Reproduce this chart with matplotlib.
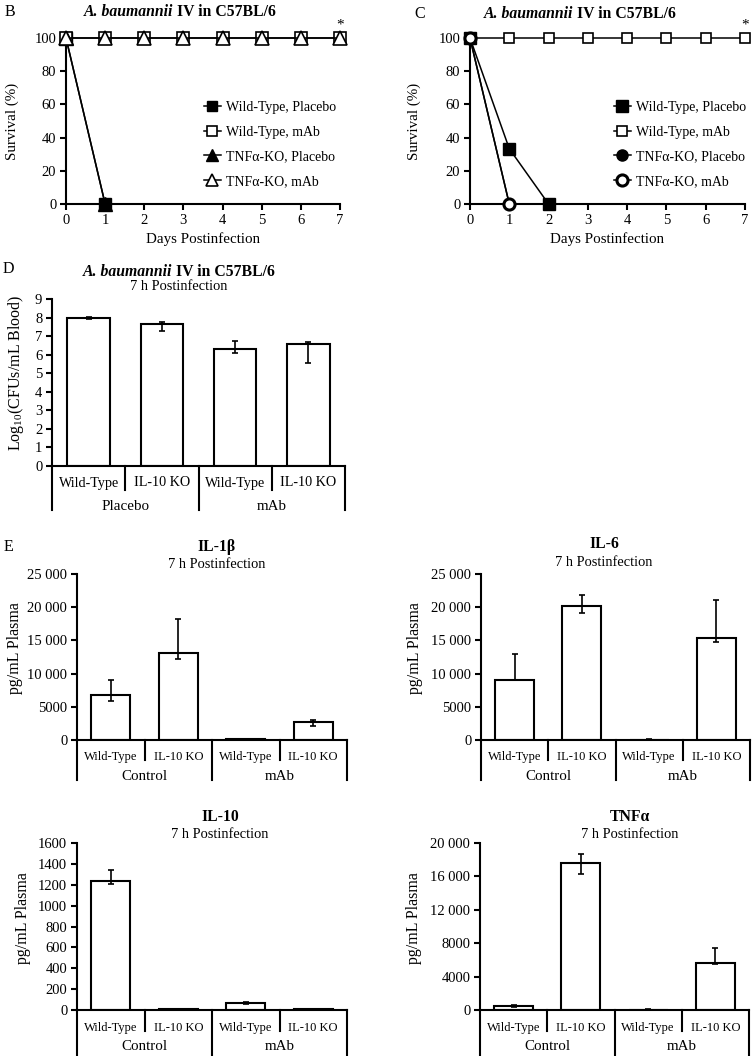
import matplotlib
matplotlib.use("Agg")
import matplotlib.pyplot as plt
from matplotlib.lines import Line2D
import numpy as np

plt.rcParams['font.family'] = ['Liberation Serif', 'DejaVu Serif']
plt.rcParams['mathtext.fontset'] = 'custom'
plt.rcParams['mathtext.rm'] = 'Liberation Serif'
plt.rcParams['mathtext.it'] = 'Liberation Serif:italic'
plt.rcParams['font.size'] = 10

# ---------------- data ----------------
days = [0, 1, 2, 3, 4, 5, 6, 7]
day_ticks = [0, 1, 2, 3, 4, 5, 6, 7]
surv_ticks = [0, 20, 40, 60, 80, 100]

# Panel B
b_wt_placebo_days = [0, 1]
b_wt_placebo = [100, 0]
b_wt_mab = [100, 100, 100, 100, 100, 100, 100, 100]
b_tnf_placebo_days = [0, 1]
b_tnf_placebo = [100, 0]
b_tnf_mab = [100, 100, 100, 100, 100, 100, 100, 100]

# Panel C
c_wt_placebo_days = [0, 1, 2]
c_wt_placebo = [100, 33.3, 0]
c_wt_mab = [100, 100, 100, 100, 100, 100, 100, 100]
c_tnf_placebo_days = [0, 1]
c_tnf_placebo = [100, 0]
c_tnf_mab_days = [0, 1]
c_tnf_mab = [100, 0]

legend_labels = ["Wild-Type, Placebo", "Wild-Type, mAb", "TNF\u03b1-KO, Placebo", "TNF\u03b1-KO, mAb"]

# Bar panels
genotypes = ["Wild-Type", "IL-10 KO", "Wild-Type", "IL-10 KO"]
d_groups = ["Placebo", "mAb"]
e_groups = ["Control", "mAb"]

d_cfu = [7.99, 7.63, 6.31, 6.56]
d_cfu_lo = [7.94, 7.30, 6.08, 5.54]
d_cfu_hi = [8.03, 7.75, 6.71, 6.69]
d_ticks = [0, 1, 2, 3, 4, 5, 6, 7, 8, 9]

il1b = [6740, 13080, 150, 2700]
il1b_lo = [5840, 12170, 110, 2110]
il1b_hi = [9000, 18160, 200, 2970]
il1b_ticks = [0, 5000, 10000, 15000, 20000, 25000]
il1b_ticklabels = ["0", "5000", "10 000", "15 000", "20 000", "25 000"]

il6 = [9000, 20220, 60, 15390]
il6_lo = [9000, 19110, 40, 14690]
il6_hi = [12880, 21880, 80, 21030]
il6_ticks = [0, 5000, 10000, 15000, 20000, 25000]
il6_ticklabels = ["0", "5000", "10 000", "15 000", "20 000", "25 000"]

il10 = [1234, 5, 67, 5]
il10_lo = [1205, 4, 62, 4]
il10_hi = [1346, 6, 78, 6]
il10_ticks = [0, 200, 400, 600, 800, 1000, 1200, 1400, 1600]
il10_ticklabels = ["0", "200", "400", "600", "800", "1000", "1200", "1400", "1600"]

tnf = [520, 17640, 50, 5610]
tnf_lo = [360, 16310, 40, 5450]
tnf_hi = [640, 18720, 60, 7375]
tnf_ticks = [0, 4000, 8000, 12000, 16000, 20000]
tnf_ticklabels = ["0", "4000", "8000", "12 000", "16 000", "20 000"]

# ---------------- layout helpers ----------------
W, H = 754, 1056
fig = plt.figure(figsize=(W / 100, H / 100), dpi=100)
fig.patch.set_facecolor('white')
LW = 1.5
TICK_FS = 10.5
LABEL_FS = 10.8
TITLE_FS = 11.3


def add_ax(l, r, top, bottom):
    return fig.add_axes([l / W, 1 - bottom / H, (r - l) / W, (bottom - top) / H])


def style_ax(ax):
    for s in ['top', 'right']:
        ax.spines[s].set_visible(False)
    for s in ['left', 'bottom']:
        ax.spines[s].set_linewidth(LW)
    ax.tick_params(direction='out', width=LW, length=4, labelsize=TICK_FS, pad=3)


def ftext(x, y, s, **kw):
    return fig.text(x / W, 1 - y / H, s, **kw)


titles = []


def mixed_title(xc, y, size=TITLE_FS):
    t1 = ftext(xc, y, "A. baumannii", style='italic', weight='bold', ha='left', va='center', fontsize=size)
    t2 = ftext(xc, y, " IV in C57BL/6", weight='bold', ha='left', va='center', fontsize=size)
    titles.append((xc, y, t1, t2))


def survival_panel(ax, series, asterisk=True):
    style_ax(ax)
    handles = []
    for (xs, ys, mk, fc, ms, mew) in series:
        h, = ax.plot(xs, ys, color='black', lw=1.1, marker=mk, markersize=ms,
                     markerfacecolor=fc, markeredgecolor='black', markeredgewidth=mew,
                     clip_on=False, zorder=3)
        handles.append(h)
    ax.set_xlim(0, 7)
    ax.set_ylim(0, 100)
    ax.set_xticks(day_ticks)
    ax.set_yticks(surv_ticks)
    ax.set_xlabel("Days Postinfection", fontsize=LABEL_FS, labelpad=4)
    if asterisk:
        ax.annotate("*", xy=(7, 100), xytext=(0, 5), textcoords='offset points',
                    ha='center', va='bottom', fontsize=11)
    return handles


def bar_panel(ax, vals, lo, hi, ticks, ticklabels, groups, hpx, lab_fs,
              lab_dy, grp_dy, inner_len, outer_len, ylim):
    style_ax(ax)
    x = np.arange(len(vals))
    vals = np.array(vals, float)
    err = [vals - np.array(lo, float), np.array(hi, float) - vals]
    ax.bar(x, vals, width=0.58, color='white', edgecolor='black', linewidth=LW, zorder=2)
    ax.errorbar(x, vals, yerr=err, fmt='none', ecolor='black', elinewidth=1.2,
                capsize=2.5, capthick=1.2, zorder=3)
    ax.set_xlim(-0.5, 3.5)
    ax.set_ylim(*ylim)
    ax.set_xticks([])
    ax.set_yticks(ticks)
    if ticklabels is not None:
        ax.set_yticklabels(ticklabels)
    trans = ax.get_xaxis_transform()
    for xb, ln in [(-0.5, outer_len), (0.5, inner_len), (1.5, outer_len), (2.5, inner_len), (3.5, outer_len)]:
        ax.add_line(Line2D([xb, xb], [0, -ln / hpx], transform=trans, color='black',
                           lw=LW, clip_on=False))
    for i, g in enumerate(genotypes):
        ax.text(i, -lab_dy / hpx, g, transform=trans, ha='center', va='center', fontsize=lab_fs)
    for j, g in enumerate(groups):
        ax.text(0.5 + 2 * j, -grp_dy / hpx, g, transform=trans, ha='center', va='center', fontsize=10.8)


# ---------------- Panel B ----------------
axB = add_ax(66, 340, 38, 204)
hB = survival_panel(axB, [
    (b_wt_placebo_days, b_wt_placebo, 's', 'black', 9, 1.0),
    (days, b_wt_mab, 's', 'white', 8, 1.2),
    (b_tnf_placebo_days, b_tnf_placebo, '^', 'black', 10.5, 1.0),
    (days, b_tnf_mab, '^', 'white', 10.5, 1.2),
])
fig.legend(hB, legend_labels, loc='upper left', bbox_to_anchor=(204 / W, 1 - 101 / H),
           frameon=False, borderpad=0, borderaxespad=0, handlelength=1.2,
           handletextpad=0.4, labelspacing=0.84, fontsize=10, markerscale=0.85)
ftext(12, 121, "Survival (%)", rotation=90, ha='center', va='center', fontsize=LABEL_FS)
ftext(10, 12, "B", ha='center', va='center', fontsize=11.5)
mixed_title(180, 12)

# ---------------- Panel C ----------------
axC = add_ax(470, 745, 38, 204)
hC = survival_panel(axC, [
    (c_wt_placebo_days, c_wt_placebo, 's', 'black', 8, 1.0),
    (days, c_wt_mab, 's', 'white', 7, 1.2),
    (c_tnf_placebo_days, c_tnf_placebo, 'o', 'black', 8, 1.0),
    (c_tnf_mab_days, c_tnf_mab, 'o', 'white', 8, 2.2),
])
fig.legend(hC, legend_labels, loc='upper left', bbox_to_anchor=(614 / W, 1 - 101 / H),
           frameon=False, borderpad=0, borderaxespad=0, handlelength=1.2,
           handletextpad=0.4, labelspacing=0.84, fontsize=10)
ftext(414, 121, "Survival (%)", rotation=90, ha='center', va='center', fontsize=LABEL_FS)
ftext(420, 14, "C", ha='center', va='center', fontsize=11.5)
mixed_title(580, 14)

# ---------------- Panel D ----------------
axD = add_ax(52, 345, 299, 466)
bar_panel(axD, d_cfu, d_cfu_lo, d_cfu_hi, d_ticks, None, d_groups, 167, 10.2,
          17, 41, 24, 44, (0, 9))
ftext(16, 373, r"Log$_{10}$(CFUs/mL Blood)", rotation=90, ha='center', va='center', fontsize=11.5)
ftext(8, 269, "D", ha='center', va='center', fontsize=11.5)
mixed_title(179, 272)
ftext(179, 287, "7 h Postinfection", ha='center', va='center', fontsize=10.4)

# ---------------- Panel E ----------------
axE1 = add_ax(77, 347, 574, 740)
bar_panel(axE1, il1b, il1b_lo, il1b_hi, il1b_ticks, il1b_ticklabels, e_groups, 166, 9,
          17, 37, 20, 40, (0, 25000))
ftext(15, 648, "pg/mL Plasma", rotation=90, ha='center', va='center', fontsize=11.5)
ftext(8, 547, "E", ha='center', va='center', fontsize=11.5)
ftext(217, 547, "IL-1\u03b2", ha='center', va='center', fontsize=TITLE_FS, weight='bold')
ftext(217, 565, "7 h Postinfection", ha='center', va='center', fontsize=10.4)

axE2 = add_ax(481, 750, 574, 740)
bar_panel(axE2, il6, il6_lo, il6_hi, il6_ticks, il6_ticklabels, e_groups, 166, 9,
          17, 37, 20, 40, (0, 25000))
ftext(415, 648, "pg/mL Plasma", rotation=90, ha='center', va='center', fontsize=11.5)
ftext(604, 544, "IL-6", ha='center', va='center', fontsize=TITLE_FS, weight='bold')
ftext(604, 563, "7 h Postinfection", ha='center', va='center', fontsize=10.4)

axE3 = add_ax(77, 347, 843, 1010)
bar_panel(axE3, il10, il10_lo, il10_hi, il10_ticks, il10_ticklabels, e_groups, 167, 9,
          18, 37, 21, 46, (0, 1600))
ftext(23, 918, "pg/mL Plasma", rotation=90, ha='center', va='center', fontsize=11.5)
ftext(220, 817, "IL-10", ha='center', va='center', fontsize=TITLE_FS, weight='bold')
ftext(220, 835, "7 h Postinfection", ha='center', va='center', fontsize=10.4)

axE4 = add_ax(480, 749, 843, 1010)
bar_panel(axE4, tnf, tnf_lo, tnf_hi, tnf_ticks, tnf_ticklabels, e_groups, 167, 9,
          18, 37, 21, 46, (0, 20000))
ftext(414, 918, "pg/mL Plasma", rotation=90, ha='center', va='center', fontsize=11.5)
ftext(630, 817, "TNF\u03b1", ha='center', va='center', fontsize=TITLE_FS, weight='bold')
ftext(630, 834, "7 h Postinfection", ha='center', va='center', fontsize=10.4)

# center the mixed-style titles
renderer = fig.canvas.get_renderer()
for xc, y, t1, t2 in titles:
    w1 = t1.get_window_extent(renderer).width
    w2 = t2.get_window_extent(renderer).width
    x0 = xc - (w1 + w2) / 2
    t1.set_position((x0 / W, 1 - y / H))
    t2.set_position(((x0 + w1) / W, 1 - y / H))

fig.savefig("out.png", dpi=100, facecolor='white')
